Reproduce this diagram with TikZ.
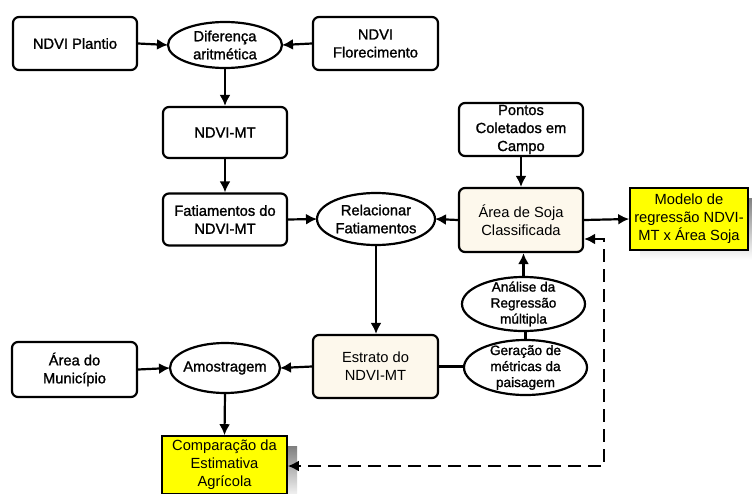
\documentclass[tikz,border=0pt]{standalone}
\usepackage{fontspec}
\setmainfont{Liberation Sans}
\newfontfamily\shfont[FakeBold=1.3]{Liberation Sans}
\usetikzlibrary{shapes.geometric,arrows.meta}
\definecolor{cream}{HTML}{FDF8EC}
\definecolor{yel}{HTML}{FFFF00}
\definecolor{shade}{HTML}{C0C0C0}
\tikzset{
  x=1pt, y=-1pt,
  base/.style={draw=black, line width=2.2pt, align=center, inner sep=1pt,
    font=\fontsize{14.7}{18}\selectfont},
  wbox/.style={base, rounded corners=6pt, fill=white, font=\fontsize{14.7}{18}\selectfont\shfont},
  cbox/.style={base, rounded corners=6pt, fill=cream},
  ybox/.style={base, fill=yel, line width=1.6pt},
  ell/.style={draw=black, line width=2.2pt, ellipse, inner sep=0pt, outer sep=0pt, fill=white},
  elab/.style={align=center, inner sep=0pt, font=\fontsize{14.7}{18}\selectfont\shfont},
  slab/.style={align=center, inner sep=0pt, font=\fontsize{13.6}{16}\selectfont\shfont},
  arr/.style={line width=2.2pt, -{Latex[length=11pt,width=11pt]}},
  conn/.style={line width=2.2pt},
  dashconn/.style={line width=2.2pt, dash pattern=on 13pt off 7pt, {Latex[length=11pt,width=11pt]}-{Latex[length=11pt,width=11pt]}}
}
\begin{document}
\begin{tikzpicture}
\clip (0,0) rectangle (752,493);
\fill[white] (0,0) rectangle (752,493);
% nodes
\node[wbox, minimum width=124pt, minimum height=53pt] (plantio) at (75,43.5) {NDVI Plantio};
\node[ell, minimum width=114pt, minimum height=46pt, label={[elab]center:{Diferença\\aritmética}}] (dif) at (225,45) {};
\node[wbox, minimum width=125pt, minimum height=53pt] (flor) at (375.5,43.5) {NDVI\\Florecimento};
\node[wbox, minimum width=124pt, minimum height=51pt] (mt) at (225,132.5) {NDVI-MT};
\node[wbox, minimum width=124pt, minimum height=52pt] (fat) at (225,219.5) {Fatiamentos do\\NDVI-MT};
\node[ell, minimum width=118pt, minimum height=52pt, label={[elab]center:{Relacionar\\Fatiamentos}}] (rel) at (376,219) {};
\node[wbox, minimum width=124pt, minimum height=53pt] (pontos) at (521,129.5) {Pontos\\Coletados em\\Campo};
\node[cbox, minimum width=124pt, minimum height=64pt] (area) at (521,220) {Área de Soja\\Classificada};
\fill[shade] (640,198) rectangle (758,260);
\node[ybox, minimum width=118pt, minimum height=62pt] (modelo) at (689,219) {Modelo de\\regressão NDVI-\\MT x Área Soja};
\node[ell, minimum width=123pt, minimum height=54pt, label={[slab]center:{Análise da\\Regressão\\múltipla}}] (analise) at (523.5,304) {};
\node[ell, minimum width=123pt, minimum height=55pt, label={[slab]center:{Geração de\\métricas da\\paisagem}}] (geracao) at (525.5,367.5) {};
\node[cbox, minimum width=125pt, minimum height=63pt] (estrato) at (375.5,366.5) {Estrato do\\NDVI-MT};
\node[ell, minimum width=110pt, minimum height=50pt, label={[elab]center:{Amostragem}}] (amostra) at (225,368) {};
\node[wbox, minimum width=125pt, minimum height=55pt] (municipio) at (74.5,369.5) {Área do\\Município};
\fill[shade] (172,446) rectangle (297,500);
\node[ybox, minimum width=125pt, minimum height=58pt] (comp) at (224.5,465) {Comparação da\\Estimativa\\Agrícola};
% connectors
\draw[arr] (plantio.east) -- (dif.west);
\draw[arr] (flor.west) -- (dif.east);
\draw[arr] (dif.south) -- (mt.north);
\draw[arr] (mt.south) -- (fat.north);
\draw[arr] (fat.east) -- (rel.west);
\draw[arr] (area.west) -- (rel.east);
\draw[arr] (pontos.south) -- (area.north);
\draw[arr] (area.east) -- (modelo.west);
\draw[arr] (rel.south) -- (rel.south |- estrato.north);
\draw[arr] (analise.north) -- (analise.north |- area.south);
\draw[conn] (geracao.north) -- (geracao.north |- analise.south);
\draw[conn] (estrato.east) -- (estrato.east -| geracao.west);
\draw[arr] (estrato.west) -- (amostra.east);
\draw[arr] (municipio.east) -- (amostra.west);
\draw[arr] (amostra.south) -- (comp.north);
\coordinate (d1) at (604,239);
\coordinate (d2) at (604,466);
\draw[dashconn] (area.east |- d1) -- (d1) -- (d2) -- (comp.east |- d2);
\end{tikzpicture}
\end{document}
